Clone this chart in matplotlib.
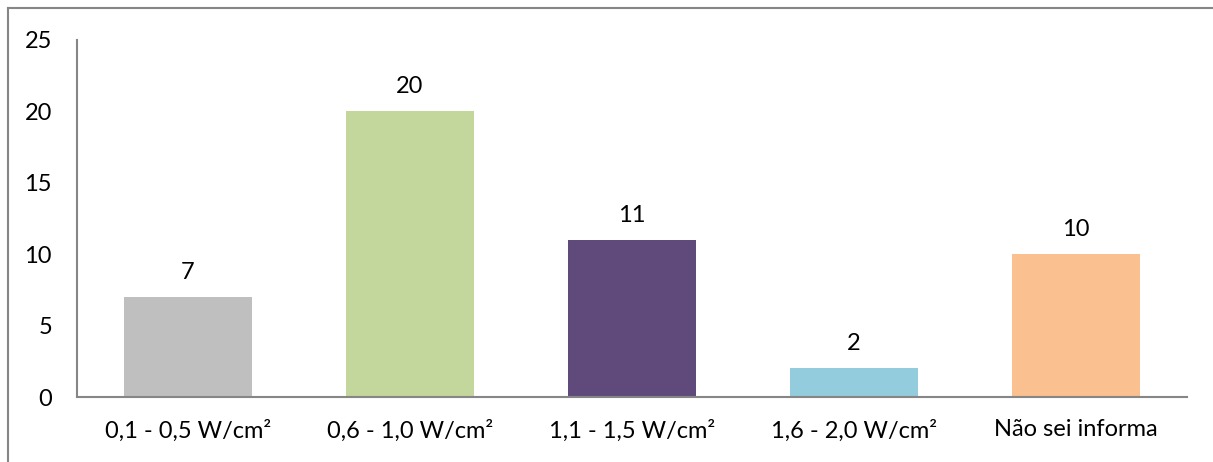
import matplotlib.pyplot as plt
from matplotlib.lines import Line2D

categorias = ['0,1 - 0,5 W/cm²', '0,6 - 1,0 W/cm²', '1,1 - 1,5 W/cm²', '1,6 - 2,0 W/cm²', 'Não sei informa']
valores = [7, 20, 11, 2, 10]
cores = ['#BFBFBF', '#C3D69B', '#604A7B', '#93CDDD', '#FAC090']
yticks = [0, 5, 10, 15, 20, 25]

plt.rcParams['font.family'] = ['Lato', 'DejaVu Sans']
fs = 17

W, H = 1213, 462
fig = plt.figure(figsize=(W / 100, H / 100), dpi=100)
ax = fig.add_axes([77 / W, (H - 397) / H, (1187 - 77) / W, (397 - 40) / H])

x = range(len(categorias))
bars = ax.bar(x, valores, width=0.58, color=cores)
for b, v in zip(bars, valores):
    ax.text(b.get_x() + b.get_width() / 2, v + 1.0, str(v), ha='center', va='bottom', fontsize=fs)

ax.set_xlim(-0.5, len(categorias) - 0.5)
ax.set_ylim(0, 25)
ax.set_yticks(yticks)
ax.set_xticks(list(x))
ax.set_xticklabels(categorias)
ax.tick_params(length=0, labelsize=fs)
ax.tick_params(axis='y', pad=18)
ax.tick_params(axis='x', pad=16)
for s in ['top', 'right']:
    ax.spines[s].set_visible(False)
for s in ['left', 'bottom']:
    ax.spines[s].set_color('#868686')
    ax.spines[s].set_linewidth(1.5)

# moldura do gráfico (só topo e esquerda visíveis)
fig.add_artist(Line2D([8 / W, 1], [1 - 8 / H, 1 - 8 / H], color='#868686', lw=1.5))
fig.add_artist(Line2D([8 / W, 8 / W], [0, 1 - 8 / H], color='#868686', lw=1.5))

fig.savefig('out.png', dpi=100)
